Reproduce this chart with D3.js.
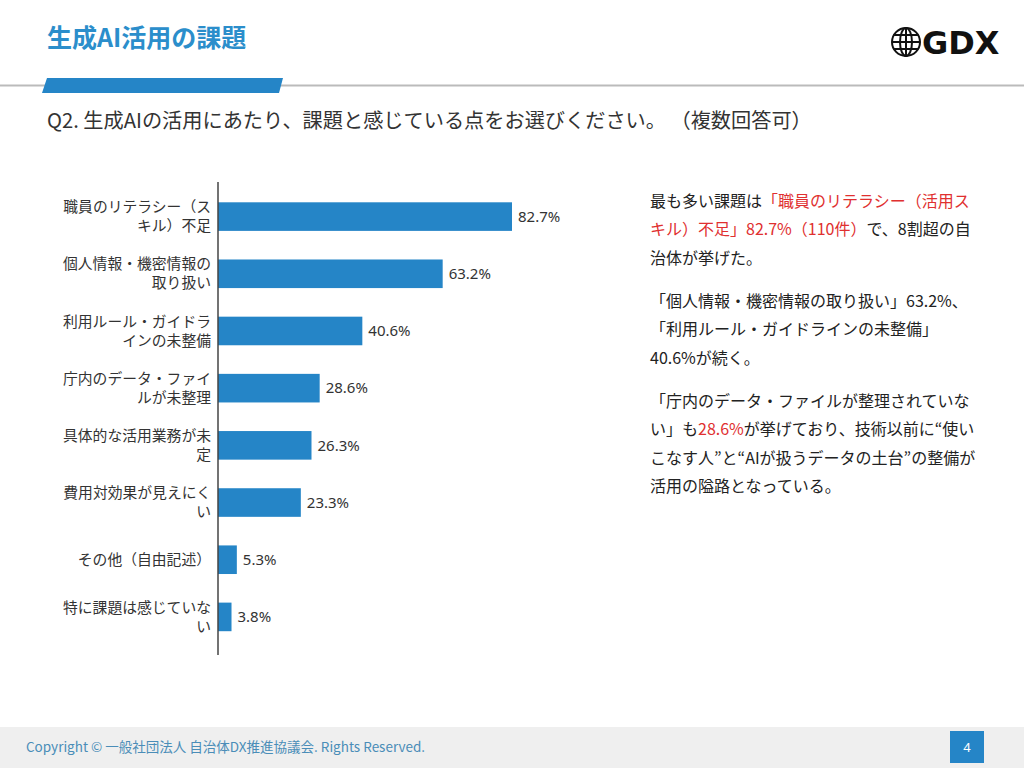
<!DOCTYPE html>
<html>
<head>
<meta charset="utf-8">
<script src="https://cdn.jsdelivr.net/npm/d3@7"></script>
<style>
  body { margin: 0; background: #fff; }
  svg { display: block; font-family: "Noto Sans CJK JP", "Noto Sans", sans-serif; }
</style>
</head>
<body>
<script>
// survey answers (Q2, multiple choice)
var labelLines = [
  ['職員のリテラシー（ス', 'キル）不足'],
  ['個人情報・機密情報の', '取り扱い'],
  ['利用ルール・ガイドラ', 'インの未整備'],
  ['庁内のデータ・ファイ', 'ルが未整理'],
  ['具体的な活用業務が未', '定'],
  ['費用対効果が見えにく', 'い'],
  ['その他（自由記述）'],
  ['特に課題は感じていな', 'い']
];
var values = [82.7, 63.2, 40.6, 28.6, 26.3, 23.3, 5.3, 3.8];

var pageTitle = '生成AI活用の課題';
var question = 'Q2. 生成AIの活用にあたり、課題と感じている点をお選びください。 （複数回答可）';
var footerText = 'Copyright © 一般社団法人 自治体DX推進協議会. Rights Reserved.';
var pageNo = '4';

// commentary, each line is a list of [text, highlighted]
var notes = [
  [
    [['最も多い課題は', false], ['「職員のリテラシー（活用ス', true]],
    [['キル）不足」82.7%（110件）', true], ['で、8割超の自', false]],
    [['治体が挙げた。', false]]
  ],
  [
    [['「個人情報・機密情報の取り扱い」63.2%、', false]],
    [['「利用ルール・ガイドラインの未整備」', false]],
    [['40.6%が続く。', false]]
  ],
  [
    [['「庁内のデータ・ファイルが整理されていな', false]],
    [['い」も', false], ['28.6%', true], ['が挙げており、技術以前に“使い', false]],
    [['こなす人”と“AIが扱うデータの土台”の整備が', false]],
    [['活用の隘路となっている。', false]]
  ]
];

var width = 1024, height = 768;
var blue = '#2585c7';

var svg = d3.select('body').append('svg')
  .attr('width', width)
  .attr('height', height);

/*---------------- header ----------------*/
svg.append('text')
  .attr('x', 47).attr('y', 47)
  .attr('font-size', 25).attr('font-weight', 'bold')
  .attr('fill', '#2b8ecb')
  .text(pageTitle);

// globe logo
var logo = svg.append('g')
  .attr('transform', 'translate(906,42)')
  .attr('fill', 'none').attr('stroke', '#111').attr('stroke-width', 2);
logo.append('circle').attr('r', 14);
logo.append('ellipse').attr('rx', 6).attr('ry', 14);
logo.append('line').attr('x1', 0).attr('x2', 0).attr('y1', -14).attr('y2', 14);
[-7, 0, 7].forEach(function(dy) {
  var half = Math.sqrt(14 * 14 - dy * dy);
  logo.append('line').attr('x1', -half).attr('x2', half).attr('y1', dy).attr('y2', dy);
});
svg.append('text')
  .attr('x', 922).attr('y', 54)
  .attr('font-family', 'DejaVu Sans')
  .attr('font-size', 32).attr('font-weight', 'bold')
  .attr('fill', '#111')
  .text('GDX');

svg.append('line')
  .attr('x1', 0).attr('x2', width).attr('y1', 85.5).attr('y2', 85.5)
  .attr('stroke', '#bbbbbb').attr('stroke-width', 2);
svg.append('path')
  .attr('d', 'M47,78 L283,78 L279,93 L42,93 Z')
  .attr('fill', blue);

svg.append('text')
  .attr('x', 47).attr('y', 128)
  .attr('font-size', 20.2)
  .attr('fill', '#333')
  .attr('xml:space', 'preserve')
  .style('white-space', 'pre')
  .text(question);

/*---------------- chart ----------------*/
var x = d3.scaleLinear().domain([0, 100]).range([218, 573.5]);
var y = d3.scaleBand().domain(d3.range(values.length)).range([188, 645.5])
  .paddingInner(0.5).paddingOuter(0.25);

var bars = svg.append('g');
bars.selectAll('rect')
  .data(values)
  .enter().append('rect')
  .attr('x', x(0))
  .attr('y', function(d, i) { return y(i); })
  .attr('width', function(d) { return x(d) - x(0); })
  .attr('height', y.bandwidth())
  .attr('fill', blue);

bars.selectAll('text.val')
  .data(values)
  .enter().append('text')
  .attr('class', 'val')
  .attr('x', function(d) { return x(d) + 6; })
  .attr('y', function(d, i) { return y(i) + y.bandwidth() / 2; })
  .attr('dy', '0.35em')
  .attr('font-family', 'Noto Sans')
  .attr('font-size', 15)
  .attr('fill', '#333')
  .text(function(d) { return d.toFixed(1) + '%'; });

var labels = svg.append('g')
  .attr('font-size', 14.8).attr('fill', '#333')
  .attr('text-anchor', 'end');
labels.selectAll('text')
  .data(labelLines)
  .enter().append('text')
  .attr('x', 211)
  .attr('y', function(d, i) { return y(i) + y.bandwidth() / 2; })
  .each(function(lines) {
    var t = d3.select(this);
    var start = -(lines.length - 1) * 9.5;
    lines.forEach(function(line, k) {
      t.append('tspan')
        .attr('x', 211)
        .attr('y', +t.attr('y') + start + k * 19)
        .attr('dy', '0.35em')
        .text(line);
    });
  });

svg.append('line')
  .attr('x1', x(0)).attr('x2', x(0))
  .attr('y1', 182).attr('y2', 655)
  .attr('stroke', '#444').attr('stroke-width', 1.5);

/*---------------- notes ----------------*/
var noteTops = [207, 307, 407];
var notesG = svg.append('g').attr('font-size', 16).attr('fill', '#222');
notes.forEach(function(para, p) {
  para.forEach(function(line, l) {
    var t = notesG.append('text')
      .attr('x', 650)
      .attr('y', noteTops[p] + l * 28.3);
    line.forEach(function(part) {
      t.append('tspan')
        .attr('fill', part[1] ? '#e03030' : '#222')
        .text(part[0]);
    });
  });
});

/*---------------- footer ----------------*/
svg.append('rect')
  .attr('x', 0).attr('y', 727).attr('width', width).attr('height', 41)
  .attr('fill', '#efefef');
svg.append('text')
  .attr('x', 26).attr('y', 752)
  .attr('font-size', 13.5)
  .attr('fill', '#4a8db8')
  .text(footerText);
svg.append('rect')
  .attr('x', 950).attr('y', 731).attr('width', 34).attr('height', 32)
  .attr('fill', blue);
svg.append('text')
  .attr('x', 967).attr('y', 752)
  .attr('text-anchor', 'middle')
  .attr('font-family', 'Noto Sans')
  .attr('font-size', 13)
  .attr('fill', '#fff')
  .text(pageNo);
</script>
</body>
</html>
